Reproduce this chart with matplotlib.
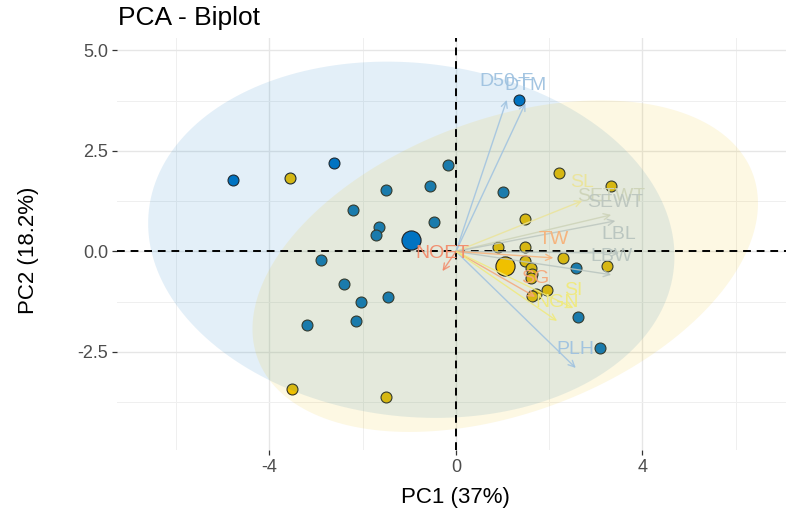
import numpy as np
import matplotlib
matplotlib.use("Agg")
import matplotlib.pyplot as plt
from matplotlib.patches import Polygon

plt.rcParams['font.family'] = ['Liberation Sans', 'DejaVu Sans']

# ---- data ----
grp1_pc1 = [-4.78, -2.62, -0.17, -1.51, -0.55, 1.00, -2.20, -1.66, -1.71, -0.47,
            1.36, -2.90, -2.41, -2.03, -1.45, -2.15, -3.20, 2.58, 2.62, 3.09]
grp1_pc2 = [1.77, 2.21, 2.14, 1.54, 1.62, 1.49, 1.02, 0.60, 0.42, 0.72,
            3.76, -0.22, -0.82, -1.27, -1.14, -1.74, -1.84, -0.42, -1.64, -2.39]
grp2_pc1 = [-3.56, -3.52, -1.51, 2.20, 3.33, 1.47, 0.90, 1.49, 2.30, 3.24,
            1.47, 1.60, 1.64, 1.60, 1.96, 1.71, 1.64]
grp2_pc2 = [1.82, -3.43, -3.63, 1.94, 1.62, 0.80, 0.10, 0.10, -0.17, -0.37,
            -0.25, -0.40, -0.57, -0.65, -0.95, -1.07, -1.12]

var_names = ['D50-F', 'DTM', 'PLH', 'SL', 'SETWT', 'SEWT', 'LBL', 'LBW',
             'TW', 'SG', 'SI', 'NGN', 'NOET']
var_pc1 = [1.09, 1.49, 2.57, 2.71, 3.33, 3.42, 3.50, 3.33, 2.09, 1.70, 2.52, 2.17, -0.29]
var_pc2 = [3.77, 3.69, -2.90, 1.26, 0.91, 0.76, -0.04, -0.58, -0.16, -1.13, -1.41, -1.73, -0.49]
var_colors = ['#9fc2e0', '#9fc2e0', '#9fc2e0', '#ebe49a', '#cdd3b8', '#bcc6bf',
              '#b8c4bf', '#b8c4bf', '#f7b27a', '#f5a77a', '#f0ea7c', '#f0ea7c', '#f28b6b']

grp_colors = ['#0073C2', '#EFC000']

title = 'PCA - Biplot'
xlabel = 'PC1 (37%)'
ylabel = 'PC2 (18.2%)'
xticks = [-4, 0, 4]
yticks = [-2.5, 0.0, 2.5, 5.0]


def ellipse_xy(x, y, level=0.95, n=200):
    x = np.asarray(x); y = np.asarray(y)
    center = np.array([x.mean(), y.mean()])
    cov = np.cov(x, y)
    dfd = len(x) - 1
    fq = dfd / 2.0 * ((1 - level) ** (-2.0 / dfd) - 1)  # F(2, dfd) quantile
    radius = np.sqrt(2 * fq)
    U = np.linalg.cholesky(cov).T
    t = np.linspace(0, 2 * np.pi, n)
    circ = np.column_stack([np.cos(t), np.sin(t)])
    return center + radius * circ @ U


fig = plt.figure(figsize=(7.86, 5.16), dpi=100)
W, H = 786, 516
ax = fig.add_axes([117 / W, 66 / H, (794 - 117) / W, (450 - 38) / H])
ax.set_xlim(-7.27, 7.25)
ax.set_ylim(-4.94, 5.31)

# grid
ax.set_xticks(xticks)
ax.set_yticks(yticks)
ax.set_xticks([-6, -2, 2, 6], minor=True)
ax.set_yticks([-3.75, -1.25, 1.25, 3.75], minor=True)
ax.grid(True, which='major', color='#E6E6E6', linewidth=1.0, zorder=0)
ax.grid(True, which='minor', color='#EFEFEF', linewidth=0.7, zorder=0)
ax.set_axisbelow(True)
for s in ax.spines.values():
    s.set_visible(False)
ax.tick_params(which='major', length=3.5, width=0.9, color='#333333',
               labelsize=13, labelcolor='#4D4D4D', pad=3)
ax.tick_params(which='minor', length=0)
ax.set_xticklabels([str(v) for v in xticks])
ax.set_yticklabels(['%.1f' % v for v in yticks])

groups = [(grp1_pc1, grp1_pc2), (grp2_pc1, grp2_pc2)]

# individual points
for (gx, gy), c in zip(groups, grp_colors):
    ax.scatter(gx, gy, s=62, color=c, edgecolor='#222222', linewidth=0.8, zorder=2)

# ellipses
for (gx, gy), c in zip(groups, grp_colors):
    pts = ellipse_xy(gx, gy)
    ax.add_patch(Polygon(pts, closed=True, facecolor=c, alpha=0.11,
                         edgecolor='none', zorder=3))

# mean points
for (gx, gy), c in zip(groups, grp_colors):
    ax.scatter([np.mean(gx)], [np.mean(gy)], s=190, color=c, edgecolor='#222222',
               linewidth=0.8, zorder=4)

# reference lines
ax.axhline(0, color='black', linestyle=(0, (4, 3)), linewidth=1.4, zorder=5)
ax.axvline(0, color='black', linestyle=(0, (4, 3)), linewidth=1.4, zorder=5)

# variable arrows
for name, vx, vy, c in zip(var_names, var_pc1, var_pc2, var_colors):
    ax.annotate('', xy=(vx, vy), xytext=(0, 0),
                arrowprops=dict(arrowstyle='->,head_length=0.45,head_width=0.22',
                                color=c, alpha=0.85, linewidth=1.0,
                                shrinkA=0, shrinkB=0),
                zorder=6)
    ax.annotate(name, xy=(vx, vy), xytext=(0, 13), textcoords='offset points',
                ha='center', va='center', fontsize=14, color=c, alpha=0.95, zorder=7)

fig.text(455 / W, 1 - 497 / H, xlabel, fontsize=16, color='black',
         ha='center', va='center')
fig.text(29 / W, 1 - 250 / H, ylabel, fontsize=16, color='black',
         ha='center', va='center', rotation=90)
fig.text(118 / W, 1 - 18 / H, title, fontsize=19, ha='left', va='center', color='black')

fig.savefig('out.png', dpi=100)
